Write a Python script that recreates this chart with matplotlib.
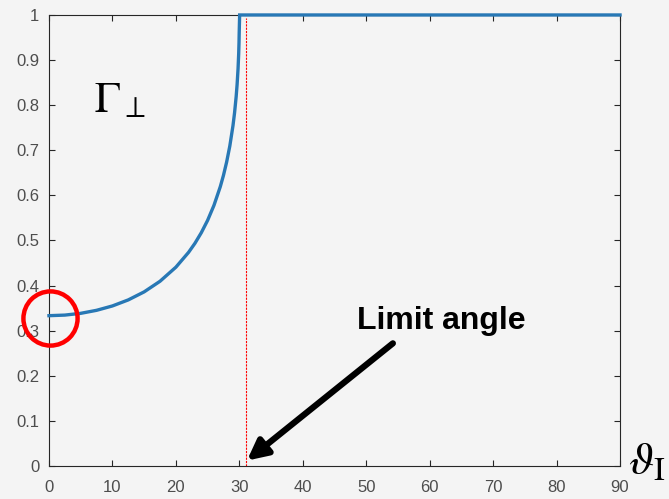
import matplotlib
matplotlib.use("Agg")
import matplotlib.pyplot as plt

# Perpendicular reflection coefficient magnitude vs. incidence angle (deg)
theta = [0, 2.5, 5, 7.5, 10, 12.5, 15, 17.5, 20, 22, 23, 24, 25, 26, 27,
         27.5, 28, 28.5, 29, 29.25, 29.5, 29.65, 29.8, 29.9, 29.95, 29.98,
         30.05, 45, 60, 75, 90]
gamma = [0.3333, 0.3346, 0.3385, 0.3452, 0.3549, 0.3683, 0.3861, 0.4096,
         0.4408, 0.4737, 0.4937, 0.5171, 0.5446, 0.5778, 0.6193, 0.6444,
         0.6739, 0.7094, 0.7546, 0.7832, 0.8188, 0.8458, 0.8809, 0.9142,
         0.9385, 0.9607, 1.0, 1.0, 1.0, 1.0, 1.0]
limit_angle = 31.0
x_ticks = [0, 10, 20, 30, 40, 50, 60, 70, 80, 90]
y_ticks = [0, 0.1, 0.2, 0.3, 0.4, 0.5, 0.6, 0.7, 0.8, 0.9, 1]
y_tick_labels = ["0", "0.1", "0.2", "0.3", "0.4", "0.5", "0.6", "0.7", "0.8", "0.9", "1"]

bg = "#f4f4f4"
fig = plt.figure(figsize=(6.69, 4.99), dpi=100, facecolor=bg)
ax = fig.add_axes([0.0732, 0.0661, 0.8536, 0.9039], facecolor=bg)

ax.plot(theta, gamma, color="#2878b5", lw=2.4, solid_joinstyle="miter",
        clip_on=False, zorder=3)
ax.plot([limit_angle, limit_angle], [0, 0.993], color="red", lw=0.8,
        ls=(0, (2, 1)), zorder=2)

ax.set_xlim(0, 90)
ax.set_ylim(0, 1)
ax.set_xticks(x_ticks)
ax.set_yticks(y_ticks)
ax.set_yticklabels(y_tick_labels)
for s in ax.spines.values():
    s.set_color("#262626")
    s.set_linewidth(0.8)
ax.tick_params(direction="in", length=4, width=0.8, color="#262626",
               top=True, right=True, labelsize=12, labelcolor="#4d4d4d")
ax.tick_params(axis="x", pad=10)
ax.tick_params(axis="y", pad=7)
for lab in ax.get_xticklabels() + ax.get_yticklabels():
    lab.set_fontfamily("Liberation Sans")

# Marker around the normal-incidence value
ax.plot([0.1], [0.328], marker="o", ms=39, mfc="none", mec="#ff0000",
        mew=3.2, clip_on=False, zorder=4)

# Symbol labels
ax.text(0.078, 0.81, r"$\Gamma_{\perp}$", transform=ax.transAxes,
        fontsize=31, color="black", math_fontfamily="stix",
        va="center", ha="left")
fig.text(0.938, 0.075, r"$\vartheta_{\mathrm{I}}$", fontsize=33,
         color="black", math_fontfamily="stix", va="center", ha="left")

# Arrow pointing to the limit angle
ax.annotate("", xy=(31.2, 0.012), xytext=(54.2, 0.272),
            arrowprops=dict(arrowstyle="-|>,head_length=1.2,head_width=0.6",
                            color="black", lw=4.5, shrinkA=0, shrinkB=0),
            annotation_clip=False)
ax.text(48.6, 0.3215, "Limit angle", fontsize=23, fontweight="bold",
        family="Liberation Sans", color="black", va="center", ha="left")

fig.savefig("out.png", dpi=100, facecolor=bg)
